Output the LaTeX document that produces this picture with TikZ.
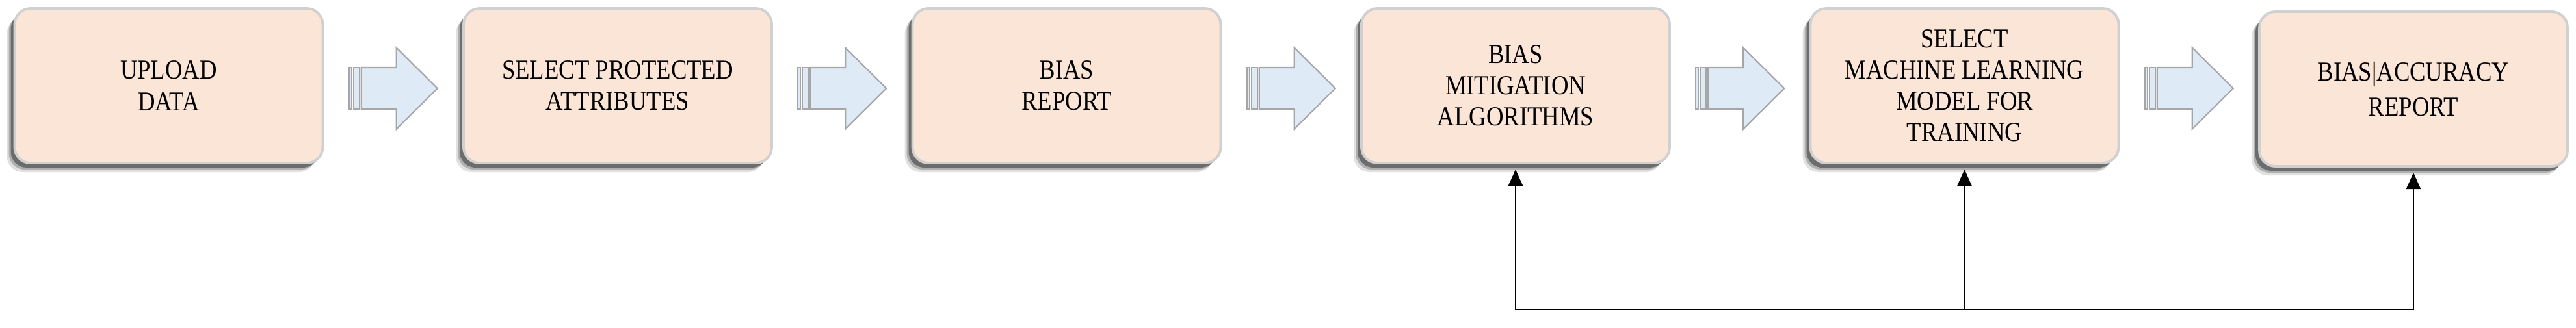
\documentclass[tikz,border=0pt]{standalone}
\usepackage{fontspec}
\setmainfont{Liberation Serif}[FakeStretch=0.87]
\usetikzlibrary{arrows.meta, positioning, calc, shadows}
\definecolor{peach}{HTML}{FBE5D6}
\definecolor{boxline}{HTML}{D0D0D0}
\definecolor{paleblue}{HTML}{DEEBF7}
\definecolor{arrgray}{HTML}{A6A6A6}

\begin{document}
\begin{tikzpicture}[
  >={Triangle[length=2.5mm, width=2.2mm]},
  stagebox/.style={
    draw=boxline, line width=1.1pt, fill=peach, rounded corners=7pt,
    minimum width=47.4mm, minimum height=23.8mm, align=center,
    font=\fontsize{12}{13.7}\selectfont, inner sep=4pt, outer sep=0pt,
    drop shadow={shadow xshift=-1.2mm, shadow yshift=-1.4mm, fill=black, opacity=0.12},
    drop shadow={shadow xshift=-0.9mm, shadow yshift=-1mm, fill=black, opacity=0.22},
    drop shadow={shadow xshift=-0.6mm, shadow yshift=-0.7mm, fill=black, opacity=0.38}
  },
  flowarr/.style={draw=arrgray, line width=0.6pt, fill=paleblue},
  fbarr/.style={->, line width=0.6pt, black, shorten >=1mm},
  node distance=21.65mm
]

% Frame
\useasboundingbox (0,0) rectangle (39.62,-5.04);

% =============================================
% Stages
% =============================================
\node[stagebox] (m1) at (2.595,-1.32) {UPLOAD\\DATA};
\node[stagebox, right=of m1] (m2) {SELECT PROTECTED\\ATTRIBUTES};
\node[stagebox, right=of m2] (m3) {BIAS\\REPORT};
\node[stagebox, right=of m3] (m4) {BIAS\\MITIGATION\\ALGORITHMS};
\node[stagebox, right=of m4] (m5) {SELECT\\MACHINE LEARNING\\MODEL FOR\\TRAINING};
\node[stagebox, right=of m5, yshift=-0.5mm, font=\fontsize{12}{15.6}\selectfont] (m6)
  {BIAS|ACCURACY\\REPORT};

% =============================================
% Block arrows between stages
% =============================================
\coordinate (arrowrow) at (0,-1.36);
\foreach \a/\b in {m1/m2, m2/m3, m3/m4, m4/m5, m5/m6} {
  \coordinate (gap) at ($(\a.east)!0.5!(\b.west)$);
  \begin{scope}[shift={(gap |- arrowrow)}]
    \draw[flowarr] (-0.68,-0.32) rectangle (-0.64,0.32);
    \draw[flowarr] (-0.61,-0.32) rectangle (-0.52,0.32);
    \draw[flowarr] (-0.49,-0.32) -- (0.05,-0.32) -- (0.05,-0.625) -- (0.68,0)
      -- (0.05,0.625) -- (0.05,0.32) -- (-0.49,0.32) -- cycle;
  \end{scope}
}

% =============================================
% Feedback lines
% =============================================
\coordinate (fbline) at (0,-4.77);
\coordinate (b4) at (m4.south |- fbline);
\coordinate (b5) at (m5.south |- fbline);
\coordinate (b6) at (m6.south |- fbline);

\draw[line width=0.6pt] (b4) -- (b6);
\draw[fbarr] (b4) -- (m4.south);
\draw[fbarr] (b5) -- (m5.south);
\draw[fbarr] (b6) -- (m6.south);

\end{tikzpicture}
\end{document}
